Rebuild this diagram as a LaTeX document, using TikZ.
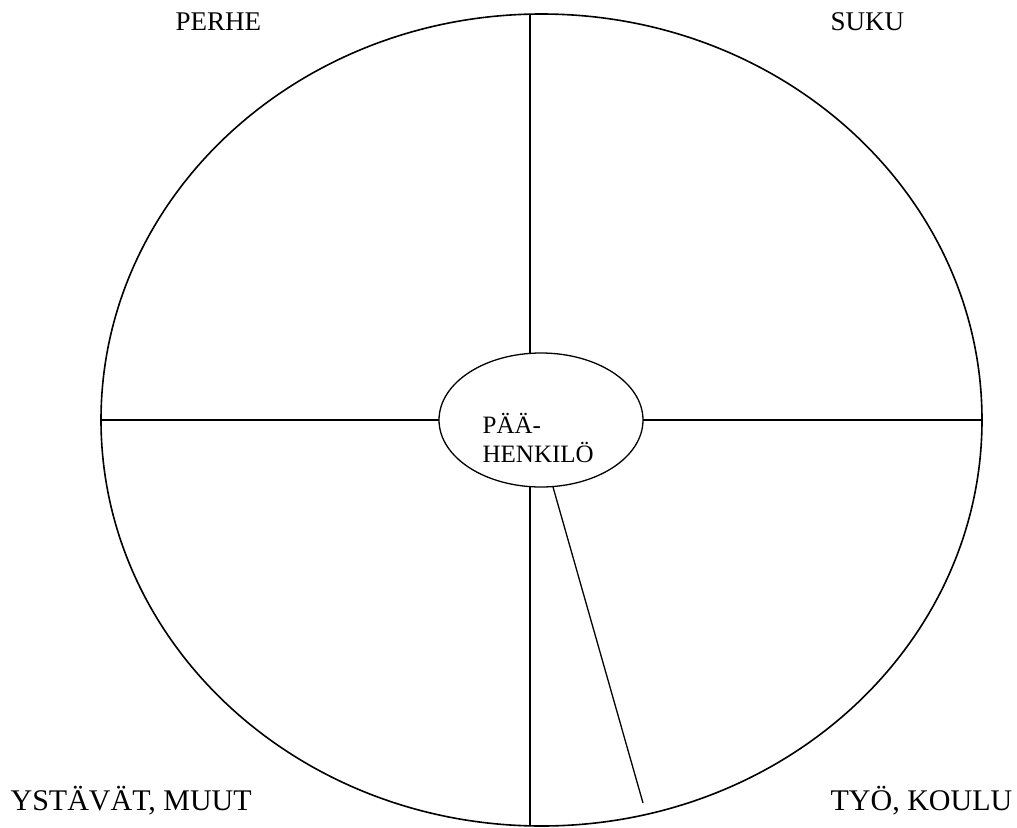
\documentclass[tikz,border=0pt]{standalone}
\usepackage{fontspec}
\setmainfont{Liberation Serif}
\usetikzlibrary{shapes.geometric}

\begin{document}
\begin{tikzpicture}[x=1pt, y=-1pt, line width=1.3pt,
  rengas/.style={ellipse, draw, inner sep=0pt, outer sep=0pt},
  otsikko/.style={anchor=base west, inner sep=0pt}]
\useasboundingbox (0,0) rectangle (1017,827);
\node[rengas, line width=1.6pt, minimum width=881pt, minimum height=812pt] (iso) at (541.5,420) {};
\node[rengas, minimum width=204pt, minimum height=134pt] (keski) at (541,420) {};
\node[anchor=north west, inner sep=0pt, align=left, font=\fontsize{25}{29}\selectfont] (nimi) at (482,413) {PÄÄ-\\HENKILÖ};
\coordinate (yla) at (530,14);
\coordinate (ala) at (530,826);
\coordinate (loppu) at (643,803);
\draw (keski.west) -- (iso.west);
\draw (keski.east) -- (iso.east);
\draw (yla) -- (yla |- keski.north);
\draw (ala |- keski.south) -- (ala);
\draw ([xshift=12pt]keski.south) -- (loppu);
\node[otsikko, font=\fontsize{27}{30}\selectfont] (perhe) at (175,30) {PERHE};
\node[otsikko, font=\fontsize{27}{30}\selectfont] (suku) at (830,30) {SUKU};
\node[otsikko, font=\fontsize{30}{34}\selectfont] (ystavat) at (10,810) {YSTÄVÄT, MUUT};
\node[otsikko, font=\fontsize{30}{34}\selectfont] (tyo) at (830,810) {TYÖ, KOULU};
\end{tikzpicture}
\end{document}
